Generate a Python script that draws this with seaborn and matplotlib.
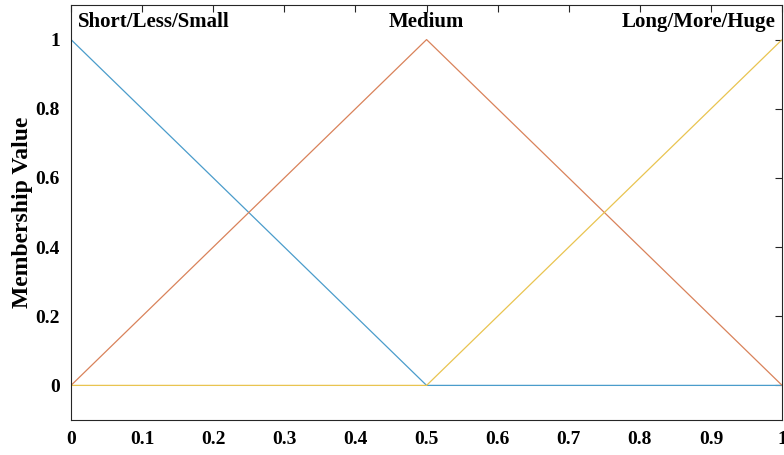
import numpy as np
import pandas as pd
import seaborn as sns
import matplotlib.pyplot as plt
from matplotlib.ticker import FormatStrFormatter

# membership functions (triangular), sampled at their corners
x_pts = [0, 0.5, 1]
short_mf = [1, 0, 0]
medium_mf = [0, 1, 0]
long_mf = [0, 0, 1]
labels = ['Short/Less/Small', 'Medium', 'Long/More/Huge']
colors = ['#4A9CCB', '#D9825A', '#E9C450']

df = pd.DataFrame({
    'x': x_pts * 3,
    'mu': short_mf + medium_mf + long_mf,
    'mf': [labels[0]] * 3 + [labels[1]] * 3 + [labels[2]] * 3,
})

sns.set_style('white')
plt.rcParams['font.family'] = ['Liberation Serif', 'DejaVu Serif']
plt.rcParams['font.weight'] = 'bold'
plt.rcParams['text.color'] = 'black'
plt.rcParams['axes.labelcolor'] = 'black'

fig = plt.figure(figsize=(7.84, 4.55), dpi=100)
ax = fig.add_axes([0.0906, 0.077, 0.907, 0.912])

sns.lineplot(data=df, x='x', y='mu', hue='mf', palette=colors,
             linewidth=0.9, legend=False, ax=ax)

ax.set_xlim(0, 1)
ax.set_ylim(-0.1, 1.1)
ax.set_xticks(np.arange(0, 1.01, 0.1))
ax.set_yticks(np.arange(0, 1.01, 0.2))
ax.xaxis.set_major_formatter(FormatStrFormatter('%g'))
ax.yaxis.set_major_formatter(FormatStrFormatter('%g'))
ax.tick_params(direction='in', length=5, width=0.8, top=True, right=True,
               labelsize=14, colors='#262626', labelcolor='black', pad=8)
for lbl in ax.get_xticklabels() + ax.get_yticklabels():
    lbl.set_fontweight('bold')
for s in ax.spines.values():
    s.set_color('#262626')
    s.set_linewidth(0.8)

ax.set_xlabel('')
ax.set_ylabel('Membership Value', fontsize=17, fontweight='bold', labelpad=2, color='black')

ax.text(0.01, 1.05, labels[0], fontsize=15, fontweight='bold', ha='left', va='center', color='black')
ax.text(0.5, 1.05, labels[1], fontsize=15, fontweight='bold', ha='center', va='center', color='black')
ax.text(0.99, 1.05, labels[2], fontsize=15, fontweight='bold', ha='right', va='center', color='black')

fig.savefig('out.png', dpi=100)
